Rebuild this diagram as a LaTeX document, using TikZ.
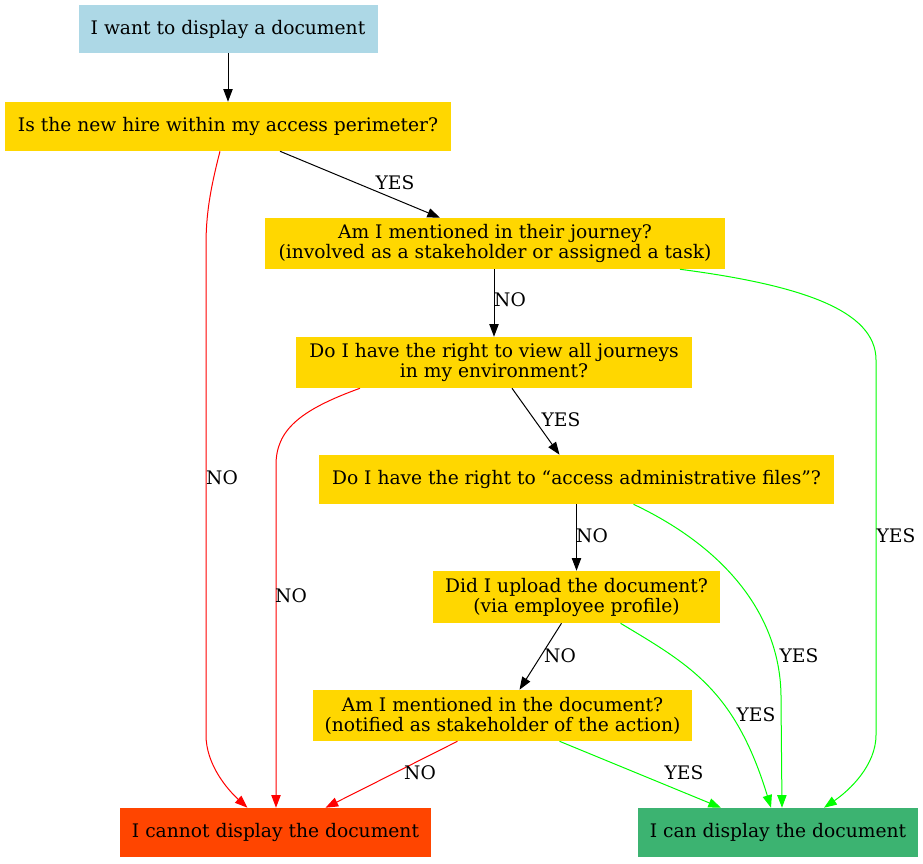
\documentclass[tikz,border=0pt]{standalone}
\usepackage{fontspec}
\setmainfont{DejaVu Serif}
\usepackage{xcolor}
\definecolor{startblue}{HTML}{ADD8E6}
\definecolor{askgold}{HTML}{FFD700}
\definecolor{denyred}{HTML}{FF4500}
\definecolor{allowgreen}{HTML}{3CB371}
\definecolor{yesline}{HTML}{00FF00}
\definecolor{noline}{HTML}{FF0000}
\usepackage{tikz}
\usetikzlibrary{arrows.meta, calc}

\tikzset{
  box/.style={inner sep=0pt, align=center, font=\fontsize{14}{15}\selectfont},
  ask/.style={box, fill=askgold},
  lbl/.style={inner sep=0pt, font=\fontsize{14}{15}\selectfont},
  flow/.style={line width=0.75pt, -{Triangle[length=9.5pt,width=7pt]}},
  yesflow/.style={flow, yesline},
  noflow/.style={flow, noline}
}

\begin{document}
\begin{tikzpicture}[x=0.75pt, y=-0.75pt]
  \useasboundingbox (0,0) rectangle (923,863);
  % boxes, sizes taken in px
  \node[box, fill=startblue, minimum width=299*0.75pt, minimum height=48*0.75pt] (want) at (228,29) {I want to display a document};
  \node[ask, minimum width=446*0.75pt, minimum height=49*0.75pt] (perim) at (228,126.5) {Is the new hire within my access perimeter?};
  \node[ask, minimum width=460*0.75pt, minimum height=51*0.75pt] (journey) at (495,243.5) {Am I mentioned in their journey?\\(involved as a stakeholder or assigned a task)};
  \node[ask, minimum width=396*0.75pt, minimum height=51*0.75pt] (viewall) at (494,362.5) {Do I have the right to view all journeys\\in my environment?};
  \node[ask, minimum width=515*0.75pt, minimum height=49*0.75pt] (admin) at (576.5,479.5) {Do I have the right to “access administrative files”?};
  \node[ask, minimum width=287*0.75pt, minimum height=52*0.75pt] (upload) at (576.5,597) {Did I upload the document?\\(via employee profile)};
  \node[ask, minimum width=379*0.75pt, minimum height=51*0.75pt] (notified) at (502.5,715.5) {Am I mentioned in the document?\\(notified as stakeholder of the action)};
  \node[box, fill=denyred, minimum width=311*0.75pt, minimum height=49*0.75pt] (cannot) at (275.5,832.5) {I cannot display the document};
  \node[box, fill=allowgreen, minimum width=280*0.75pt, minimum height=49*0.75pt] (can) at (778,832.5) {I can display the document};

  % straight steps
  \draw[flow] (want) -- (perim);
  \draw[flow] ($(perim.south)+(52,0)$) -- ($(journey.north)+(-55,0)$);
  \draw[flow] ($(journey.south)+(-1,0)$) -- ($(viewall.north)+(0,0)$);
  \draw[flow] ($(viewall.south)+(18,0)$) -- ($(admin.north)+(-17,0)$);
  \draw[flow] (admin) -- (upload);
  \draw[flow] ($(upload.south)+(-15,0)$) -- ($(notified.north)+(17,0)$);

  % refusals
  \draw[noflow] ($(perim.south)+(-8,0)$) .. controls (210,190) and (206,215) .. (206,245)
    -- (206,735) .. controls (206,765) and (228,790) .. ($(cannot.north)+(-28,0)$);
  \draw[noflow] ($(viewall.south)+(-134,0)$) .. controls (300,410) and (276,430) .. (276,465)
    -- ($(cannot.north)+(0.5,0)$);
  \draw[noflow] ($(notified.south)+(-45,0)$) -- ($(cannot.north)+(50,0)$);

  % approvals
  \draw[yesflow] ($(journey.south)+(185,0)$) .. controls (800,285) and (876,310) .. (876,360)
    -- (876,735) .. controls (876,765) and (850,790) .. ($(can.north)+(46,0)$);
  \draw[yesflow] ($(admin.south)+(57,0)$) .. controls (730,550) and (782,620) .. (781,700)
    -- ($(can.north)+(4,0)$);
  \draw[yesflow] ($(upload.south)+(44,0)$) .. controls (690,665) and (735,690) .. ($(can.north)+(-7,0)$);
  \draw[yesflow] ($(notified.south)+(57,0)$) -- ($(can.north)+(-57,0)$);

  % labels
  \node[lbl] (l1) at (395,183) {YES};
  \node[lbl] (l2) at (222,478) {NO};
  \node[lbl] (l3) at (510,300) {NO};
  \node[lbl] (l4) at (896,536) {YES};
  \node[lbl] (l5) at (561,420) {YES};
  \node[lbl] (l6) at (291,596) {NO};
  \node[lbl] (l7) at (592,536) {NO};
  \node[lbl] (l8) at (799,656) {YES};
  \node[lbl] (l9) at (560,656) {NO};
  \node[lbl] (l10) at (756,715) {YES};
  \node[lbl] (l11) at (420,773) {NO};
  \node[lbl] (l12) at (684,773) {YES};
\end{tikzpicture}
\end{document}
